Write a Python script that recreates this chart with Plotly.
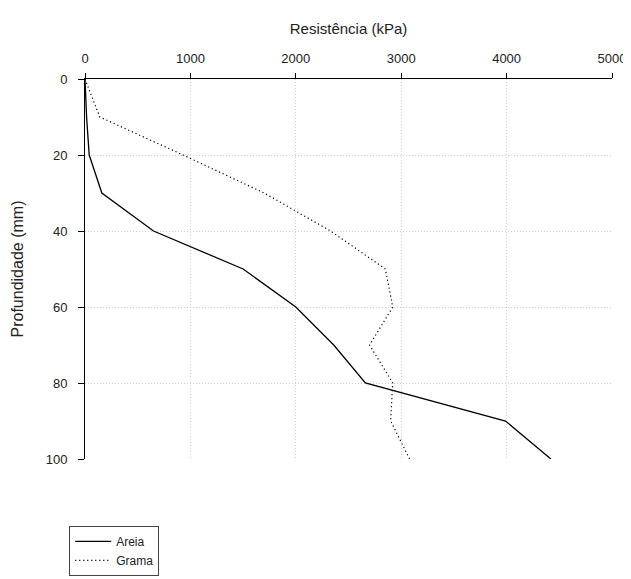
import plotly.graph_objects as go

depth = [0, 10, 20, 30, 40, 50, 60, 70, 80, 90, 100]
areia = [0, 15, 40, 160, 650, 1500, 2000, 2360, 2660, 3990, 4420]
grama = [0, 140, 930, 1700, 2330, 2850, 2920, 2700, 2920, 2900, 3080]

x_ticks = [0, 1000, 2000, 3000, 4000, 5000]
y_ticks = [0, 20, 40, 60, 80, 100]

font_family = "Liberation Sans, Arial, sans-serif"

fig = go.Figure()
fig.add_trace(go.Scatter(x=areia, y=depth, mode="lines", name="Areia",
                         line=dict(color="black", width=1.3)))
fig.add_trace(go.Scatter(x=grama, y=depth, mode="lines", name="Grama",
                         line=dict(color="black", width=1.2, dash="1.2px,2.8px")))

# page body has an 8px default margin, so the figure is offset by 8px
fig.update_layout(
    width=623, height=571,
    margin=dict(l=77, r=19, t=71, b=120, autoexpand=False),
    paper_bgcolor="white", plot_bgcolor="white",
    font=dict(family=font_family, size=13, color="#222"),
    showlegend=True,
    legend=dict(x=-0.03, y=-0.176, xanchor="left", yanchor="top",
                bordercolor="#444", borderwidth=1, bgcolor="white",
                font=dict(size=12), tracegroupgap=0, itemwidth=36),
    xaxis=dict(
        side="top", range=[0, 5000], tickvals=x_ticks,
        ticktext=[str(v) for v in x_ticks], automargin=False,
        showline=True, linecolor="black", linewidth=1, mirror=False,
        ticks="outside", ticklen=5, tickcolor="black",
        showgrid=True, gridcolor="#cfcfcf", griddash="1px,2px", gridwidth=1,
        zeroline=False, ticklabelstandoff=5,
        title=dict(text="Resistência (kPa)", font=dict(size=15), standoff=12),
    ),
    yaxis=dict(
        range=[100, 0], tickvals=y_ticks,
        ticktext=[str(v) for v in y_ticks], automargin=False,
        showline=True, linecolor="black", linewidth=1,
        ticks="outside", ticklen=6, tickcolor="black",
        showgrid=True, gridcolor="#cfcfcf", griddash="1px,2px", gridwidth=1,
        zeroline=False, ticklabelstandoff=8,
        title=dict(text="Profundidade (mm)", font=dict(size=16), standoff=18),
    ),
)

fig.write_html("out.html")
